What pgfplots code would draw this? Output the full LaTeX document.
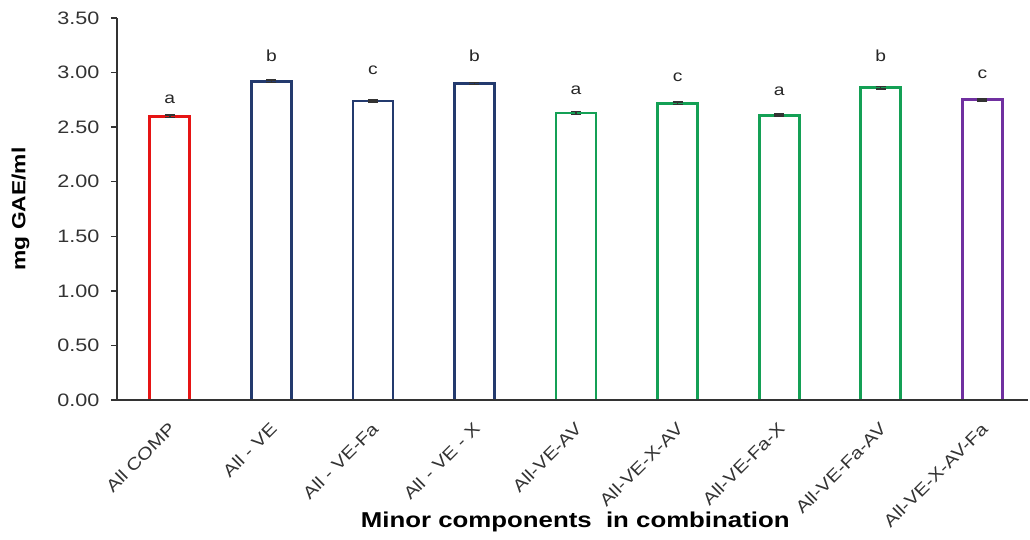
\documentclass[border=0pt]{standalone}
\usepackage{pgfplots}
\pgfplotsset{compat=1.18}
\usepackage{pgfplotstable}
\usepackage{fontspec}
\setmainfont[FakeStretch=1.2]{Liberation Sans}

\definecolor{cRed}{RGB}{230,20,20}
\definecolor{cNavy}{RGB}{35,58,110}
\definecolor{cGreen}{RGB}{20,160,85}
\definecolor{cPurple}{RGB}{112,48,160}

% value, error
\pgfplotstableread{
x y e
0 2.60 0.01
}\allcomp
\pgfplotstableread{
x y e
1 2.92 0.012
2 2.74 0.010
3 2.90 0.010
}\minusve
\pgfplotstableread{
x y e
4 2.63 0.012
5 2.72 0.012
6 2.61 0.010
7 2.86 0.012
}\greens
\pgfplotstableread{
x y e
8 2.75 0.010
}\purple
% letters (baseline position)
\pgfplotstableread{
x y l
0 2.72 a
1 3.10 b
2 2.98 c
3 3.10 b
4 2.80 a
5 2.92 c
6 2.79 a
7 3.10 b
8 2.95 c
}\letters

\begin{document}
\begin{tikzpicture}
\useasboundingbox (0,0) rectangle (1030bp,540bp);
\begin{axis}[
  at={(117bp,140bp)}, anchor=south west,
  scale only axis, width=911bp, height=382bp,
  axis lines=left, axis line style={-, draw=black!80, line width=1.3bp},
  axis on top,
  xmin=-0.52, xmax=8.45, ymin=0, ymax=3.5,
  ytick={0,0.5,...,3.5},
  yticklabel style={font=\fontsize{18bp}{20bp}\selectfont, text=black!80, xshift=-8bp,
    /pgf/number format/.cd, fixed, fixed zerofill, precision=2},
  /pgf/number format/assume math mode=true,
  tick align=outside, major tick length=6bp,
  ytick style={draw=black!80, line width=1.3bp},
  xtick={0,...,8}, xtick style={draw=none},
  xticklabels={All COMP, All - VE, All - VE-Fa, All - VE - X, All-VE-AV, All-VE-X-AV, All-VE-Fa-X, All-VE-Fa-AV, All-VE-X-AV-Fa},
  xticklabel style={rotate=45, anchor=north east, font=\fontsize{17bp}{19bp}\selectfont, text=black!80, xshift=-9bp, yshift=-6bp},
  xlabel={\textbf{Minor components\ \ in combination}},
  xlabel style={at={(axis description cs:0.503,-0.319)}, anchor=center, font=\fontsize{21.5bp}{24bp}\selectfont},
  ylabel={\textbf{mg GAE/ml}},
  ylabel style={at={(axis description cs:-0.106,0.5)}, anchor=center, font=\fontsize{19bp}{22bp}\selectfont},
  ybar, bar width=40bp, bar shift=0pt,
]
\pgfplotsset{every axis plot/.append style={
  error bars/y dir=both, error bars/y explicit,
  error bars/error bar style={black!80, line width=1.5bp},
  error bars/error mark options={black!80, line width=1.5bp, mark size=5bp, rotate=90}}}
\addplot[draw=cRed, fill=white, line width=2.8bp] table[x=x, y=y, y error=e] {\allcomp};
\addplot[draw=cNavy, fill=white, line width=2.8bp] table[x=x, y=y, y error=e] {\minusve};
\addplot[draw=cGreen, fill=white, line width=2.8bp] table[x=x, y=y, y error=e] {\greens};
\addplot[draw=cPurple, fill=white, line width=2.8bp] table[x=x, y=y, y error=e] {\purple};
\addplot[draw=none, fill=none, forget plot, error bars/y dir=none,
  nodes near coords, point meta=explicit symbolic,
  nodes near coords style={anchor=base, font=\fontsize{16bp}{18bp}\selectfont, text=black!85, inner sep=0pt}]
  table[x=x, y=y, meta=l] {\letters};
\end{axis}
\end{tikzpicture}
\end{document}
